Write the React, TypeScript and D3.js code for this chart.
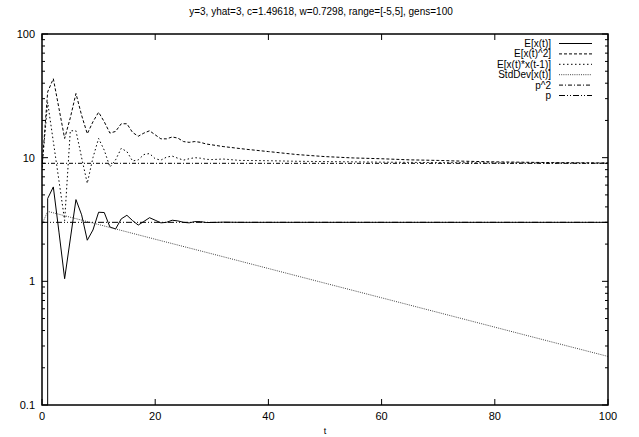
import React from "react";
import * as d3 from "d3";

const TITLE = "y=3, yhat=3, c=1.49618, w=0.7298, range=[-5,5], gens=100";
const X_LABEL = "t";
const X_TICKS = [0, 20, 40, 60, 80, 100];
const Y_TICKS = [0.1, 1, 10, 100];
const Y_TICK_LABELS = ["0.1", "1", "10", "100"];

const LEGEND_LABELS = ["E[x(t)]", "E[x(t)^2]", "E[x(t)*x(t-1)]", "StdDev[x(t)]", "p^2", "p"];

const meanT = [0,1,2,3,4,5,6,7,8,9,10,11,12,13,14,15,16,17,18,19,20,21,22,23,24,25,26,27,28,29,30,32,35,40,50,60,70,80,90,100];
const meanV = [0,4.67,5.8,2.5,1.05,2.2,4.58,3.45,2.15,2.6,3.62,3.6,2.75,2.65,3.2,3.42,3.1,2.85,3.05,3.27,3.12,2.97,3.0,3.12,3.08,3.0,2.97,3.04,3.04,2.99,2.99,3.01,3.0,3.0,3.0,3.0,3.0,3.0,3.0,3.0];

const sqT = [0,1,2,3,4,5,6,7,8,9,10,11,12,13,14,15,16,17,18,19,20,21,22,23,24,25,26,27,28,29,30,32,34,36,40,45,50,55,60,65,70,75,80,90,100];
const sqV = [8.33,34,43.5,25,14.3,21,33,22,15.6,19.5,23.3,19.5,15.8,16.3,18.8,18.8,16,14.9,15.8,16.5,15.3,14.2,14.2,14.7,14.4,13.5,13.3,13.5,13.3,12.9,12.7,12.3,12.0,11.7,11.2,10.6,10.2,9.95,9.8,9.6,9.5,9.35,9.25,9.12,9.06];

const lagT = [0,1,2,3,4,5,6,7,8,9,10,11,12,13,14,15,16,17,18,19,20,21,22,23,24,25,26,27,28,29,30,32,35,40,45,50,60,70,80,90,100];
const lagV = [8.33,28,13.5,6.5,3.1,16.5,16.5,10,6.2,10,14.3,11.5,8.4,9.6,11.9,11.2,9.4,9.6,10.6,10.8,9.8,9.55,10.1,10.3,9.9,9.55,9.8,10.0,9.9,9.7,9.65,9.75,9.5,9.45,9.35,9.3,9.2,9.12,9.07,9.04,9.02];

const sdT = [0,1,10,20,30,40,50,60,70,80,90,100];
const sdV = [2.89,3.68,2.88,2.19,1.67,1.27,0.966,0.736,0.56,0.426,0.324,0.247];

const pSqT = [0, 100];
const pSqV = [9, 9];
const pT = [0, 100];
const pV = [3, 3];

const W = 639, H = 437;
const L = 42, R = 608, TOP = 34, BOT = 405;

export default function App() {
  const x = d3.scaleLinear().domain([0, 100]).range([L, R]);
  const y = d3.scaleLog().domain([0.1, 100]).range([BOT, TOP]);
  type P = { t: number; v: number };
  const mk = (ts: number[], vs: number[]): P[] => ts.map((t, i) => ({ t, v: vs[i] }));
  const line = d3.line<P>().defined(d => d.v > 0).x(d => x(d.t)).y(d => y(d.v));

  // E[x(t)] starts at 0 (off the log scale); gnuplot draws it rising from the bottom edge
  const meanPts = mk(meanT, meanV);
  const meanLine = [{ t: meanPts[1].t, v: y.domain()[0] }, ...meanPts.slice(1)];

  const series = [
    { pts: meanLine, dash: "none", color: "#000" },
    { pts: mk(sqT, sqV), dash: "3,2", color: "#000" },
    { pts: mk(lagT, lagV), dash: "1.5,2.5", color: "#000" },
    { pts: mk(sdT, sdV), dash: "1,1.2", color: "#444" },
    { pts: mk(pSqT, pSqV), dash: "4,2,1,2", color: "#000" },
    { pts: mk(pT, pV), dash: "6,2,1,2,1,2", color: "#000" },
  ];

  const minor: number[] = [];
  for (let d = 0.1; d < 100; d *= 10) for (let k = 2; k <= 9; k++) minor.push(+(d * k).toPrecision(3));

  const font = "Liberation Sans, Arial, Helvetica, sans-serif";
  const legX = 551, legY0 = 43.5, legDy = 10.4;

  return (
    <svg width={W} height={H} style={{ position: "absolute", left: 0, top: 0, background: "#fff" }} fontFamily={font}>
      <defs>
        <clipPath id="plot">
          <rect x={L} y={TOP} width={R - L} height={BOT - TOP} />
        </clipPath>
      </defs>
      <rect x={0} y={0} width={W} height={H} fill="#fff" />
      <text x={(L + R) / 2 - 4} y={15} textAnchor="middle" fontSize={10}>{TITLE}</text>

      {/* ticks */}
      {X_TICKS.map(t => (
        <g key={"xt" + t}>
          <line x1={x(t)} x2={x(t)} y1={BOT} y2={BOT - 6} stroke="#000" />
          <line x1={x(t)} x2={x(t)} y1={TOP} y2={TOP + 6} stroke="#000" />
          <text x={x(t)} y={BOT + 15} textAnchor="middle" fontSize={11}>{t}</text>
        </g>
      ))}
      {Y_TICKS.map((v, i) => (
        <g key={"yt" + v}>
          <line x1={L} x2={L + 6} y1={y(v)} y2={y(v)} stroke="#000" />
          <line x1={R} x2={R - 6} y1={y(v)} y2={y(v)} stroke="#000" />
          <text x={L - 7} y={y(v) + 4} textAnchor="end" fontSize={11}>{Y_TICK_LABELS[i]}</text>
        </g>
      ))}
      {minor.map(v => (
        <g key={"mt" + v}>
          <line x1={L} x2={L + 3} y1={y(v)} y2={y(v)} stroke="#000" />
          <line x1={R} x2={R - 3} y1={y(v)} y2={y(v)} stroke="#000" />
        </g>
      ))}
      <text x={x(50)} y={434} textAnchor="middle" fontSize={9}>{X_LABEL}</text>

      <g clipPath="url(#plot)">
        {series.map((s, i) => (
          <path key={i} d={line(s.pts) || ""} fill="none" stroke={s.color} strokeWidth={1} strokeDasharray={s.dash} />
        ))}
      </g>

      {LEGEND_LABELS.map((lab, i) => {
        const yy = legY0 + i * legDy;
        return (
          <g key={lab}>
            <text x={legX} y={yy + 3.5} textAnchor="end" fontSize={10}>{lab}</text>
            <line x1={559} x2={592} y1={yy} y2={yy} stroke={series[i].color} strokeDasharray={series[i].dash} />
          </g>
        );
      })}

      <rect x={L} y={TOP} width={R - L} height={BOT - TOP} fill="none" stroke="#000" strokeWidth={1.5} />
    </svg>
  );
}
